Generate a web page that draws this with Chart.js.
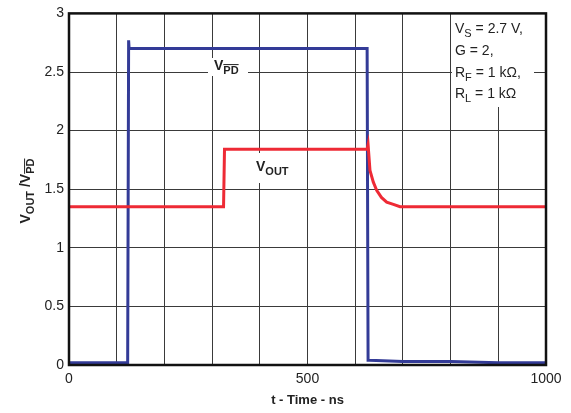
<!DOCTYPE html>
<html>
<head>
<meta charset="utf-8">
<script src="https://cdn.jsdelivr.net/npm/chart.js@4.4.1/dist/chart.umd.min.js"></script>
<style>
  html, body { margin: 0; padding: 0; background: #fff; }
  #wrap { width: 571px; height: 413px; }
</style>
</head>
<body>
<div id="wrap"><canvas id="scope" width="571" height="413"></canvas></div>
<script>
// V(PD) trace, ns / V
const vpdTime  = [0, 123, 125, 126, 128, 300, 500, 625, 627, 630, 700, 800, 900, 1000];
const vpdValue = [0.02, 0.02, 2.77, 2.70, 2.70, 2.70, 2.70, 2.70, 0.04, 0.04, 0.03, 0.03, 0.02, 0.02];

// V(OUT) trace
const voutTime  = [0, 324, 326, 500, 625, 627, 631, 638, 645, 655, 666, 680, 694, 800, 1000];
const voutValue = [1.35, 1.35, 1.84, 1.84, 1.84, 1.88, 1.66, 1.56, 1.49, 1.43, 1.39, 1.37, 1.35, 1.35, 1.35];

const xTickLabels = [0, 500, 1000];
const yTickLabels = [0, 0.5, 1, 1.5, 2, 2.5, 3];

const FONT = '"Liberation Sans", Arial, sans-serif';

function toPoints(xs, ys) {
	return xs.map((x, i) => ({ x: x, y: ys[i] }));
}

// draw text pieces: {t, sub, over}
function drawRich(ctx, parts, x, y, size, bold) {
	let cx = x;
	parts.forEach(p => {
		const sz = p.sub ? Math.round(size * 0.78) : size;
		ctx.font = (bold ? 'bold ' : '') + sz + 'px ' + FONT;
		const dy = p.sub ? size * 0.32 : 0;
		ctx.fillText(p.t, cx, y + dy);
		const w = ctx.measureText(p.t).width;
		if (p.over) {
			ctx.beginPath();
			ctx.lineWidth = 1;
			ctx.moveTo(cx, y + dy - sz * 0.9);
			ctx.lineTo(cx + w, y + dy - sz * 0.9);
			ctx.stroke();
		}
		cx += w;
	});
	return cx - x;
}

function measureRich(ctx, parts, size, bold) {
	let w = 0;
	parts.forEach(p => {
		const sz = p.sub ? Math.round(size * 0.78) : size;
		ctx.font = (bold ? 'bold ' : '') + sz + 'px ' + FONT;
		w += ctx.measureText(p.t).width;
	});
	return w;
}

const annotate = {
	id: 'annotate',
	beforeDatasetsDraw(chart) {
		const ctx = chart.ctx;
		ctx.save();
		ctx.fillStyle = '#fff';
		// white patches behind labels
		ctx.fillRect(452, 14, 82, 93);
		ctx.fillRect(208, 58, 40, 18);
		ctx.fillRect(253, 153, 50, 30);
		ctx.restore();
	},
	afterDraw(chart) {
		const ctx = chart.ctx;
		const a = chart.chartArea;
		ctx.save();
		// frame
		ctx.strokeStyle = '#111';
		ctx.lineWidth = 2.5;
		ctx.strokeRect(a.left, a.top, a.right - a.left, a.bottom - a.top);

		ctx.fillStyle = '#222';
		ctx.strokeStyle = '#222';
		ctx.textBaseline = 'alphabetic';
		ctx.textAlign = 'left';

		// conditions block
		drawRich(ctx, [{ t: 'V' }, { t: 'S', sub: true }, { t: ' = 2.7 V,' }], 455, 33, 14, false);
		drawRich(ctx, [{ t: 'G = 2,' }], 455, 55, 14, false);
		drawRich(ctx, [{ t: 'R' }, { t: 'F', sub: true }, { t: ' = 1 k\u03A9,' }], 455, 77, 14, false);
		drawRich(ctx, [{ t: 'R' }, { t: 'L', sub: true }, { t: ' = 1 k\u03A9' }], 455, 98, 14, false);

		// trace labels
		drawRich(ctx, [{ t: 'V' }, { t: 'PD', sub: true, over: true }], 214, 70, 14, true);
		drawRich(ctx, [{ t: 'V' }, { t: 'OUT', sub: true }], 256, 171, 14, true);

		// x axis title
		ctx.font = 'bold 13px ' + FONT;
		ctx.textAlign = 'center';
		ctx.fillText('t - Time - ns', (a.left + a.right) / 2, 404);

		// y axis title
		const yParts = [{ t: 'V' }, { t: 'OUT', sub: true }, { t: ' /V' }, { t: 'PD', sub: true, over: true }];
		const w = measureRich(ctx, yParts, 14, true);
		ctx.translate(30, 191);
		ctx.rotate(-Math.PI / 2);
		ctx.textAlign = 'left';
		drawRich(ctx, yParts, -w / 2, 0, 14, true);
		ctx.restore();
	}
};

const ctx = document.getElementById('scope').getContext('2d');
const chart = new Chart(ctx, {
	type: 'line',
	data: {
		datasets: [
			{
				label: 'VOUT',
				data: toPoints(voutTime, voutValue),
				borderColor: '#ee2a35',
				borderWidth: 3,
				pointRadius: 0,
				tension: 0
			},
			{
				label: 'VPD',
				data: toPoints(vpdTime, vpdValue),
				borderColor: '#333b97',
				borderWidth: 3,
				pointRadius: 0,
				tension: 0
			}
		]
	},
	options: {
		responsive: false,
		animation: false,
		devicePixelRatio: 1,
		layout: { padding: { top: 13, right: 25, left: 0, bottom: 0 } },
		plugins: {
			legend: { display: false },
			tooltip: { enabled: false }
		},
		scales: {
			x: {
				type: 'linear',
				min: 0,
				max: 1000,
				afterFit: s => { s.height = 48; },
				afterBuildTicks: s => {
					s.ticks = [];
					for (let v = 0; v <= 1000; v += 100) s.ticks.push({ value: v });
				},
				grid: { color: '#3a3a3a', lineWidth: 1, drawTicks: false },
				border: { display: false },
				ticks: {
					padding: 6,
					color: '#222',
					font: { family: FONT, size: 14 },
					maxRotation: 0,
					autoSkip: false,
					callback: v => (xTickLabels.includes(v) ? String(v) : '')
				}
			},
			y: {
				type: 'linear',
				min: 0,
				max: 3,
				afterFit: s => { s.width = 69; },
				afterBuildTicks: s => {
					s.ticks = yTickLabels.map(v => ({ value: v }));
				},
				grid: { color: '#3a3a3a', lineWidth: 1, drawTicks: false },
				border: { display: false },
				ticks: {
					padding: 5,
					color: '#222',
					font: { family: FONT, size: 14 },
					callback: v => String(v)
				}
			}
		}
	},
	plugins: [annotate]
});
</script>
</body>
</html>
